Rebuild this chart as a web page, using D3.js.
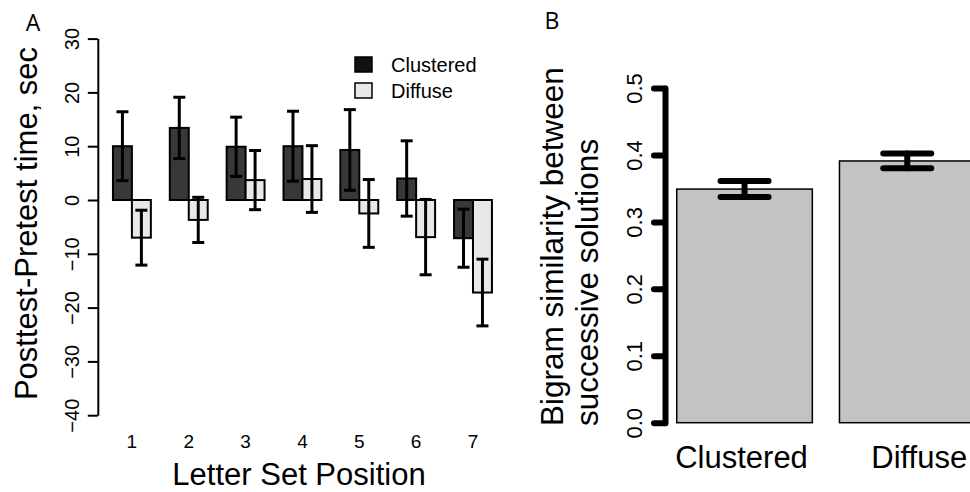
<!DOCTYPE html>
<html>
<head>
<meta charset="utf-8">
<script src="https://cdn.jsdelivr.net/npm/d3@7"></script>
<style>
  body { margin: 0; background: #fff; }
  text { font-family: "Liberation Sans", Arial, sans-serif; fill: #000; }
</style>
</head>
<body>
<svg id="chart" width="970" height="492"></svg>
<script>
// Panel A data: change in solving time per letter set position
var positions = ["1", "2", "3", "4", "5", "6", "7"];
var clustered = [10.0, 13.4, 9.9, 10.0, 9.3, 4.0, -7.1];
var clusteredErr = [6.4, 5.7, 5.5, 6.5, 7.5, 7.0, 5.4];
var diffuse = [-7.0, -3.7, 3.7, 3.9, -2.5, -6.9, -17.2];
var diffuseErr = [5.1, 4.2, 5.5, 6.2, 6.3, 7.0, 6.2];
var seriesNames = ["Clustered", "Diffuse"];
var yTicksA = [-40, -30, -20, -10, 0, 10, 20, 30];

// Panel B data: bigram similarity
var conditions = ["Clustered", "Diffuse"];
var similarity = [0.349, 0.391];
var similarityErr = [0.012, 0.011];
var yTicksB = [0, 0.1, 0.2, 0.3, 0.4, 0.5];

var svg = d3.select("#chart");
svg.append("rect").attr("width", 970).attr("height", 492).attr("fill", "#fff");

var fills = ["#383838", "#e8e8e8"];

// ---------- Panel A ----------
// barplot units (R style): bars of width 1, groups separated by one unit
var xA = d3.scaleLinear().domain([0.2, 21.8]).range([97.8, 507.1]);
var yA = d3.scaleLinear().domain([-40, 30]).range([415.2, 38.6]);

var barsA = [];
positions.forEach(function (p, i) {
  barsA.push({ s: 0, left: 1 + 3 * i, v: clustered[i], e: clusteredErr[i] });
  barsA.push({ s: 1, left: 2 + 3 * i, v: diffuse[i], e: diffuseErr[i] });
});

var gA = svg.append("g");

gA.selectAll("rect.bar")
  .data(barsA)
  .enter()
  .append("rect")
  .attr("class", "bar")
  .attr("x", function (d) { return xA(d.left); })
  .attr("width", function (d) { return xA(d.left + 1) - xA(d.left); })
  .attr("y", function (d) { return yA(Math.max(0, d.v)); })
  .attr("height", function (d) { return Math.abs(yA(d.v) - yA(0)); })
  .attr("fill", function (d) { return fills[d.s]; })
  .attr("stroke", "#000")
  .attr("stroke-width", 2);

// error bars
var errA = gA.selectAll("g.err")
  .data(barsA)
  .enter()
  .append("g")
  .attr("class", "err")
  .attr("stroke", "#000")
  .attr("stroke-width", 3);

errA.append("line")
  .attr("x1", function (d) { return xA(d.left + 0.5); })
  .attr("x2", function (d) { return xA(d.left + 0.5); })
  .attr("y1", function (d) { return yA(d.v - d.e); })
  .attr("y2", function (d) { return yA(d.v + d.e); });

[-1, 1].forEach(function (sign) {
  errA.append("line")
    .attr("x1", function (d) { return xA(d.left + 0.5) - 6; })
    .attr("x2", function (d) { return xA(d.left + 0.5) + 6; })
    .attr("y1", function (d) { return yA(d.v + sign * d.e); })
    .attr("y2", function (d) { return yA(d.v + sign * d.e); });
});

// y axis
var axA = gA.append("g")
  .attr("transform", "translate(" + xA(0.2) + ",0)")
  .call(d3.axisLeft(yA).tickValues(yTicksA).tickSize(10).tickSizeOuter(0));
axA.select(".domain").attr("stroke-width", 2);
axA.selectAll(".tick line").attr("stroke-width", 2);
axA.selectAll(".tick text")
  .attr("transform", "rotate(-90)")
  .attr("x", 0)
  .attr("y", -19)
  .attr("dy", 0)
  .attr("text-anchor", "middle")
  .style("font-size", "20px")
  .style("font-family", "Liberation Sans, Arial, sans-serif");

// group labels
gA.selectAll("text.pos")
  .data(positions)
  .enter()
  .append("text")
  .attr("class", "pos")
  .attr("x", function (d, i) { return xA(2 + 3 * i); })
  .attr("y", 448)
  .attr("text-anchor", "middle")
  .style("font-size", "19px")
  .text(function (d) { return d; });

gA.append("text")
  .attr("x", 299)
  .attr("y", 485)
  .attr("text-anchor", "middle")
  .style("font-size", "31px")
  .text("Letter Set Position");

gA.append("text")
  .attr("transform", "translate(37," + 223.5 + ") rotate(-90)")
  .attr("text-anchor", "middle")
  .style("font-size", "31px")
  .text("Posttest-Pretest time, sec");

gA.append("text")
  .attr("x", 33)
  .attr("y", 31)
  .attr("text-anchor", "middle")
  .style("font-family", "Open Sans, sans-serif")
  .style("font-size", "23px")
  .text("A");

// legend
var leg = gA.selectAll("g.leg")
  .data(seriesNames)
  .enter()
  .append("g")
  .attr("class", "leg")
  .attr("transform", function (d, i) { return "translate(355," + (57 + i * 26) + ")"; });
leg.append("rect")
  .attr("width", 17)
  .attr("height", 15)
  .attr("fill", function (d, i) { return i === 0 ? "#111" : fills[1]; })
  .attr("stroke", "#000")
  .attr("stroke-width", 1.5);
leg.append("text")
  .attr("x", 36)
  .attr("y", 15)
  .style("font-size", "20px")
  .text(function (d) { return d; });

// ---------- Panel B ----------
var xB = d3.scaleLinear().domain([0.112, 2.488]).range([664.8, 987]);
var yB = d3.scaleLinear().domain([0, 0.5]).range([422.7, 88]);

var barsB = conditions.map(function (c, i) {
  return { name: c, left: 0.2 + 1.2 * i, v: similarity[i], e: similarityErr[i] };
});

var gB = svg.append("g");

gB.selectAll("rect.bar")
  .data(barsB)
  .enter()
  .append("rect")
  .attr("class", "bar")
  .attr("x", function (d) { return xB(d.left); })
  .attr("width", function (d) { return xB(d.left + 1) - xB(d.left); })
  .attr("y", function (d) { return yB(d.v); })
  .attr("height", function (d) { return yB(0) - yB(d.v); })
  .attr("fill", "#c3c3c3")
  .attr("stroke", "#000")
  .attr("stroke-width", 1.5);

var errB = gB.selectAll("g.err")
  .data(barsB)
  .enter()
  .append("g")
  .attr("class", "err")
  .attr("stroke", "#000")
  .attr("stroke-width", 6)
  .attr("stroke-linecap", "round");

errB.append("line")
  .attr("x1", function (d) { return xB(d.left + 0.5); })
  .attr("x2", function (d) { return xB(d.left + 0.5); })
  .attr("y1", function (d) { return yB(d.v - d.e); })
  .attr("y2", function (d) { return yB(d.v + d.e); });

[-1, 1].forEach(function (sign) {
  errB.append("line")
    .attr("x1", function (d) { return xB(d.left + 0.5) - 24; })
    .attr("x2", function (d) { return xB(d.left + 0.5) + 24; })
    .attr("y1", function (d) { return yB(d.v + sign * d.e); })
    .attr("y2", function (d) { return yB(d.v + sign * d.e); });
});

var axB = gB.append("g")
  .attr("transform", "translate(665,0)")
  .call(d3.axisLeft(yB).tickValues(yTicksB).tickFormat(d3.format(".1f")).tickSize(11).tickSizeOuter(0));
axB.select(".domain").attr("stroke-width", 6).attr("stroke-linecap", "round");
axB.selectAll(".tick line").attr("stroke-width", 6).attr("stroke-linecap", "round");
axB.selectAll(".tick text")
  .attr("transform", "rotate(-90)")
  .attr("x", 0)
  .attr("y", -23)
  .attr("dy", 0)
  .attr("text-anchor", "middle")
  .style("font-size", "22px")
  .style("font-family", "Liberation Sans, Arial, sans-serif");

gB.selectAll("text.cond")
  .data(barsB)
  .enter()
  .append("text")
  .attr("class", "cond")
  .attr("x", function (d) { return xB(d.left + 0.5); })
  .attr("dx", function (d, i) { return i === 1 ? 12 : -3; })
  .attr("y", 468)
  .attr("text-anchor", "middle")
  .style("font-size", "31px")
  .text(function (d) { return d.name; });

var titleB = gB.append("text")
  .attr("transform", "translate(563,426) rotate(-90)")
  .attr("text-anchor", "start")
  .style("font-size", "31.5px");
titleB.append("tspan").attr("x", 0).attr("y", 0).text("Bigram similarity between");
titleB.append("tspan").attr("x", 0).attr("y", 35).text("successive solutions");

gB.append("text")
  .attr("x", 552)
  .attr("y", 29)
  .attr("text-anchor", "middle")
  .style("font-family", "Open Sans, sans-serif")
  .style("font-size", "23px")
  .text("B");
</script>
</body>
</html>
